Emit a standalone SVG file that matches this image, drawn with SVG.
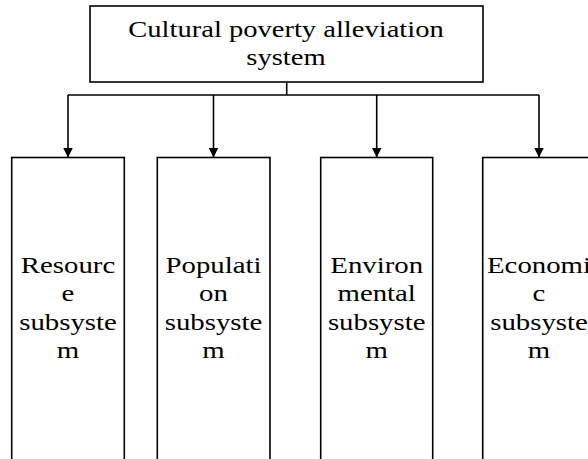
<svg xmlns="http://www.w3.org/2000/svg" width="588" height="459" viewBox="0 0 588 459">
<defs>
<style>
.box{fill:#fff;stroke:#000;stroke-width:1.6}
.ln{fill:none;stroke:#000;stroke-width:1.6}
.t{font-family:"Liberation Serif","Times New Roman",serif;font-size:24px;fill:#000;text-anchor:middle}
</style>
<marker id="ah" markerWidth="10" markerHeight="10" refX="10" refY="5" orient="auto" markerUnits="userSpaceOnUse">
<path d="M0,0 L10,5 L0,10 Z" fill="#000"/>
</marker>
</defs>
<rect width="588" height="459" fill="#fff"/>
<g id="connectors">
<path class="ln" d="M286.7,82 V95"/>
<path class="ln" d="M68,95 H539"/>
<path class="ln" d="M68,95 V157.5" marker-end="url(#ah)"/>
<path class="ln" d="M213.5,95 V157.5" marker-end="url(#ah)"/>
<path class="ln" d="M376.7,95 V157.5" marker-end="url(#ah)"/>
<path class="ln" d="M539,95 V157.5" marker-end="url(#ah)"/>
</g>
<g id="root">
<rect class="box" x="90" y="6" width="393" height="76"/>
<g transform="translate(286 0) scale(1.19 1)">
<text class="t" x="0" y="37">Cultural poverty alleviation</text>
<text class="t" x="0" y="65">system</text>
</g>
</g>
<g id="resource">
<rect class="box" x="11.7" y="157.5" width="112.6" height="320"/>
<g transform="translate(68 0) scale(1.2 1)">
<text class="t" x="0" y="273">Resourc</text>
<text class="t" x="0" y="301.5">e</text>
<text class="t" x="0" y="330">subsyste</text>
<text class="t" x="0" y="358.5">m</text>
</g>
</g>
<g id="population">
<rect class="box" x="157.3" y="157.5" width="112.7" height="320"/>
<g transform="translate(213.5 0) scale(1.2 1)">
<text class="t" x="0" y="273">Populati</text>
<text class="t" x="0" y="301.5">on</text>
<text class="t" x="0" y="330">subsyste</text>
<text class="t" x="0" y="358.5">m</text>
</g>
</g>
<g id="environmental">
<rect class="box" x="320.7" y="157.5" width="112" height="320"/>
<g transform="translate(376.7 0) scale(1.2 1)">
<text class="t" x="0" y="273">Environ</text>
<text class="t" x="0" y="301.5">mental</text>
<text class="t" x="0" y="330">subsyste</text>
<text class="t" x="0" y="358.5">m</text>
</g>
</g>
<g id="economic">
<rect class="box" x="482.7" y="157.5" width="112.6" height="320"/>
<g transform="translate(539 0) scale(1.2 1)">
<text class="t" x="0" y="273">Economi</text>
<text class="t" x="0" y="301.5">c</text>
<text class="t" x="0" y="330">subsyste</text>
<text class="t" x="0" y="358.5">m</text>
</g>
</g>
</svg>
